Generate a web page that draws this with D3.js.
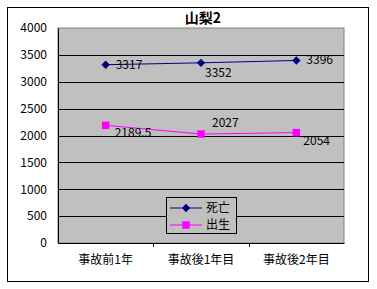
<!DOCTYPE html>
<html>
<head>
<meta charset="utf-8">
<script src="https://cdn.jsdelivr.net/npm/d3@7"></script>
<style>
  body { margin: 0; background: #fff; }
  text { font-family: "Noto Sans CJK JP", "DejaVu Sans", sans-serif; fill: #000; }
</style>
</head>
<body>
<script>
// data
var categories = ["事故前1年", "事故後1年目", "事故後2年目"];
var deaths = [3317, 3352, 3396];
var births = [2189.5, 2027, 2054];
var yTicks = [0, 500, 1000, 1500, 2000, 2500, 3000, 3500, 4000];
var seriesNames = ["死亡", "出生"];

var outWidth = 377, outHeight = 289;
var margin = {top: 28, right: 33, bottom: 46, left: 58},
    width = 344 - margin.left,
    height = 243 - margin.top;

var svg = d3.select("body").append("svg")
    .attr("width", outWidth)
    .attr("height", outHeight);

// outer frame
svg.append("rect")
    .attr("x", 7.5).attr("y", 7.5)
    .attr("width", 361).attr("height", 274)
    .attr("fill", "#fff").attr("stroke", "#000").attr("stroke-width", 1);

svg.append("text")
    .attr("x", 203).attr("y", 23)
    .attr("text-anchor", "middle")
    .style("font-size", "14px").style("font-weight", "bold")
    .text("山梨2");

var g = svg.append("g")
    .attr("transform", "translate(" + margin.left + "," + margin.top + ")");

var xScale = d3.scaleBand().domain(categories).range([0, width]);
var yScale = d3.scaleLinear().domain([0, 4000]).range([height, 0]);

g.append("rect")
    .attr("width", width).attr("height", height)
    .attr("fill", "#c0c0c0").attr("stroke", "#808080");

// gridlines
g.selectAll(".grid").data(yTicks.slice(1, -1)).enter()
  .append("line")
    .attr("x1", 0).attr("x2", width)
    .attr("y1", function(d) { return Math.round(yScale(d)) + 0.5; })
    .attr("y2", function(d) { return Math.round(yScale(d)) + 0.5; })
    .attr("stroke", "#000");

// y axis
var yAxis = g.append("g")
    .call(d3.axisLeft(yScale).tickValues(yTicks).tickFormat(d3.format("d")).tickSize(0).tickPadding(11));
yAxis.select(".domain").attr("stroke", "#000");
yAxis.selectAll("text").style("font-size", "12px").attr("font-family", null);

// x axis
var xAxis = g.append("g")
    .attr("transform", "translate(0," + height + ")")
    .call(d3.axisBottom(xScale).tickSize(0).tickPadding(12));
xAxis.selectAll("text").style("font-size", "12px").attr("font-family", null);
xAxis.select(".domain").attr("stroke", "#000");
g.selectAll(".xtick").data(categories.slice(1)).enter()
  .append("line")
    .attr("x1", function(d) { return Math.round(xScale(d)) + 0.5; })
    .attr("x2", function(d) { return Math.round(xScale(d)) + 0.5; })
    .attr("y1", height).attr("y2", height + 4)
    .attr("stroke", "#000");

var cx = function(d, i) { return xScale(categories[i]) + xScale.bandwidth() / 2; };
var line = d3.line()
    .x(function(d, i) { return cx(d, i); })
    .y(function(d) { return yScale(d); });

var series = [
  {name: seriesNames[0], values: deaths, color: "#000080", symbol: d3.symbolDiamond2, size: 45,
   labels: [[10, 4, "start"], [4, 14, "start"], [10, 4, "start"]]},
  {name: seriesNames[1], values: births, color: "#ff00ff", symbol: d3.symbolSquare, size: 56,
   labels: [[9, 12, "start"], [11, -7, "start"], [7, 12, "start"]]}
];

series.forEach(function(s) {
  g.append("path").datum(s.values)
    .attr("d", line).attr("fill", "none")
    .attr("stroke", s.color).attr("stroke-width", 1);
  g.selectAll(null).data(s.values).enter()
    .append("path")
      .attr("d", d3.symbol().type(s.symbol).size(s.size))
      .attr("transform", function(d, i) { return "translate(" + cx(d, i) + "," + yScale(d) + ")"; })
      .attr("fill", s.color);
  g.selectAll(null).data(s.values).enter()
    .append("text")
      .attr("x", function(d, i) { return cx(d, i) + s.labels[i][0]; })
      .attr("y", function(d, i) { return yScale(d) + s.labels[i][1]; })
      .attr("text-anchor", function(d, i) { return s.labels[i][2]; })
      .style("font-size", "12px")
      .text(function(d) { return d; });
});

// legend
var legend = svg.append("g").attr("transform", "translate(166,197)");
legend.append("rect")
    .attr("x", 0.5).attr("y", 0.5).attr("width", 70).attr("height", 36)
    .attr("fill", "#c0c0c0").attr("stroke", "#000");
series.forEach(function(s, i) {
  var y = 11 + i * 17;
  legend.append("line")
      .attr("x1", 4).attr("x2", 36).attr("y1", y).attr("y2", y)
      .attr("stroke", s.color);
  legend.append("path")
      .attr("d", d3.symbol().type(s.symbol).size(s.size))
      .attr("transform", "translate(20," + y + ")")
      .attr("fill", s.color);
  legend.append("text")
      .attr("x", 40).attr("y", y + 4)
      .style("font-size", "12px")
      .text(s.name);
});
</script>
</body>
</html>
